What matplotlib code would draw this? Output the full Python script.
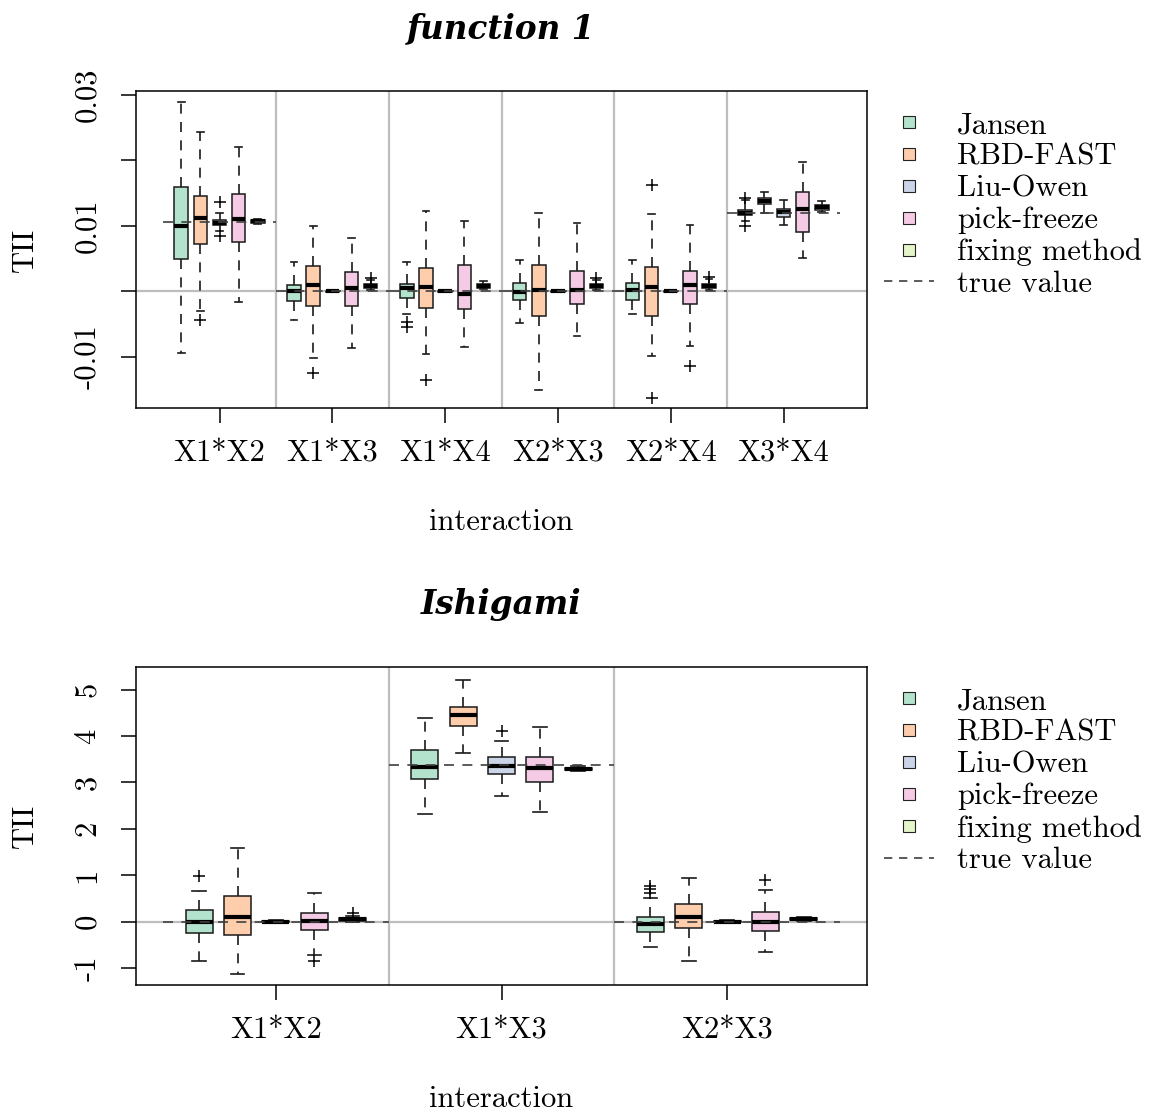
import numpy as np
import matplotlib
matplotlib.use("Agg")
import matplotlib.pyplot as plt
from matplotlib.lines import Line2D

plt.rcParams['font.family'] = 'cmr10'
plt.rcParams['axes.unicode_minus'] = False
plt.rcParams['axes.linewidth'] = 1.1
plt.rcParams['font.size'] = 22

methods = ["Jansen", "RBD-FAST", "Liu-Owen", "pick-freeze", "fixing method"]
colors = ["#B3E2CD", "#FDCDAC", "#CBD5E8", "#F4CAE4", "#E6F5C9"]

# ---- function 1 : rows = interactions, cols = methods
f1_groups = ["X1*X2", "X1*X3", "X1*X4", "X2*X3", "X2*X4", "X3*X4"]
f1_true = [0.0106, 0.0, 0.0, 0.0, 0.0, 0.0120]
f1_whishi = [[0.0289, 0.0243, 0.0119, 0.0220, 0.0111],
             [0.0045, 0.0100, 0.0001, 0.0081, 0.0017],
             [0.0045, 0.0122, 0.0001, 0.0107, 0.0016],
             [0.0048, 0.0119, 0.0001, 0.0104, 0.0018],
             [0.0048, 0.0118, 0.0001, 0.0102, 0.0019],
             [0.0139, 0.0152, 0.0140, 0.0198, 0.0138]]
f1_q3 = [[0.0160, 0.0146, 0.0109, 0.0148, 0.0109],
         [0.0010, 0.0039, 0.00005, 0.0029, 0.0011],
         [0.0012, 0.0035, 0.00005, 0.0041, 0.0011],
         [0.0013, 0.0041, 0.00005, 0.0031, 0.0011],
         [0.0013, 0.0037, 0.00005, 0.0031, 0.0011],
         [0.0125, 0.0142, 0.0126, 0.0151, 0.0132]]
f1_med = [[0.0100, 0.0112, 0.0105, 0.0111, 0.0107],
          [0.0000, 0.0010, 0.0000, 0.0005, 0.0008],
          [0.0005, 0.0007, 0.0000, -0.0004, 0.0008],
          [-0.0001, 0.0002, 0.0000, 0.0002, 0.0008],
          [0.0002, 0.0006, 0.0000, 0.0010, 0.0008],
          [0.0120, 0.0138, 0.0121, 0.0126, 0.0129]]
f1_q1 = [[0.0049, 0.0072, 0.0101, 0.0075, 0.0105],
         [-0.0015, -0.0023, -0.00005, -0.0022, 0.0005],
         [-0.0010, -0.0025, -0.00005, -0.0027, 0.0005],
         [-0.0013, -0.0037, -0.00005, -0.0020, 0.0005],
         [-0.0013, -0.0037, -0.00005, -0.0019, 0.0005],
         [0.0116, 0.0133, 0.0114, 0.0090, 0.0125]]
f1_whislo = [[-0.0094, -0.0030, 0.0092, -0.0016, 0.0103],
             [-0.0044, -0.0102, -0.0001, -0.0086, 0.0002],
             [-0.0035, -0.0095, -0.0001, -0.0085, 0.0003],
             [-0.0049, -0.0150, -0.0001, -0.0068, 0.0002],
             [-0.0035, -0.0099, -0.0001, -0.0084, 0.0002],
             [0.0107, 0.0120, 0.0102, 0.0051, 0.0121]]
f1_fliers = [[[], [-0.0043], [0.0136, 0.0085], [], []],
             [[], [-0.0125], [], [], [0.0020]],
             [[-0.0047, -0.0055], [-0.0136], [], [], []],
             [[], [], [], [], [0.0021]],
             [[], [0.0162, -0.0162], [], [-0.0114], [0.0022]],
             [[0.0143, 0.0100], [], [], [], []]]

# ---- Ishigami
ish_groups = ["X1*X2", "X1*X3", "X2*X3"]
ish_true = [0.0, 3.37, 0.0]
ish_whishi = [[0.67, 1.58, 0.03, 0.61, 0.12],
              [4.38, 5.22, 3.89, 4.19, 3.36],
              [0.50, 0.95, 0.03, 0.68, 0.10]]
ish_q3 = [[0.24, 0.56, 0.01, 0.19, 0.07],
          [3.71, 4.63, 3.54, 3.54, 3.32],
          [0.09, 0.37, 0.01, 0.21, 0.08]]
ish_med = [[0.0, 0.09, 0.0, 0.01, 0.05],
           [3.33, 4.46, 3.35, 3.32, 3.30],
           [-0.06, 0.09, 0.0, 0.0, 0.06]]
ish_q1 = [[-0.24, -0.28, -0.01, -0.18, 0.02],
          [3.08, 4.21, 3.18, 3.01, 3.27],
          [-0.22, -0.13, -0.01, -0.21, 0.04]]
ish_whislo = [[-0.86, -1.12, -0.03, -0.72, 0.0],
              [2.31, 3.64, 2.70, 2.36, 3.25],
              [-0.55, -0.86, -0.03, -0.65, 0.02]]
ish_fliers = [[[0.99], [], [], [-0.86], [0.19]],
              [[], [], [4.10], [], []],
              [[0.62, 0.70, 0.76], [], [], [0.90], []]]

offsets = np.array([-0.34, -0.17, 0.0, 0.17, 0.34])
bw = 0.12
dash = (0, (6, 5))


def panel(ax, title, groups, true, whishi, q3, med, q1, whislo, fliers, yticks, ylabels, ylim):
    n = len(groups)
    for g in range(n):
        stats = []
        for m in range(5):
            stats.append(dict(med=med[g][m], q1=q1[g][m], q3=q3[g][m],
                              whislo=whislo[g][m], whishi=whishi[g][m],
                              fliers=fliers[g][m]))
        pos = g + 1 + offsets
        bp = ax.bxp(stats, positions=pos, widths=bw, patch_artist=True,
                    showfliers=True, manage_ticks=False,
                    boxprops=dict(edgecolor='#1a1a1a', linewidth=1.1),
                    whiskerprops=dict(color='#1a1a1a', linestyle=dash, linewidth=1.2),
                    capprops=dict(color='#1a1a1a', linewidth=1.2),
                    medianprops=dict(color='black', linewidth=3.0, solid_capstyle='butt'),
                    flierprops=dict(marker='+', markersize=9, markeredgecolor='black',
                                    markeredgewidth=1.1, linestyle='none'))
        for patch, c in zip(bp['boxes'], colors):
            patch.set_facecolor(c)
        ax.plot([g + 0.5, g + 1.5], [true[g], true[g]], color='#404040',
                linestyle=dash, linewidth=1.2, zorder=4)
    for g in range(1, n):
        ax.axvline(g + 0.5, color='#BEBEBE', linewidth=1.6, zorder=1)
    ax.axhline(0, color='#BEBEBE', linewidth=1.6, zorder=1)

    ax.set_xlim(0.5 - 0.04 * n, n + 0.5 + 0.04 * n)
    ax.set_ylim(*ylim)
    ax.set_xticks(np.arange(1, n + 1))
    ax.set_xticklabels(groups)
    ax.set_yticks(yticks)
    ax.set_yticklabels(ylabels, rotation=90, va='center')
    ax.tick_params(axis='both', direction='out', length=11, width=1.1, labelsize=22)
    ax.tick_params(axis='y', pad=14)
    ax.tick_params(axis='x', pad=12)
    ax.set_xlabel("interaction", fontsize=22, labelpad=30)
    ax.set_ylabel("TII", fontsize=22, labelpad=25)
    ax.set_title(title, fontsize=23.5, family='DejaVu Serif', style='italic',
                 weight='bold', pad=38)

    handles = [Line2D([0], [0], marker='s', markersize=9, markerfacecolor=c,
                      markeredgecolor='#222222', markeredgewidth=0.8, linestyle='none')
               for c in colors]
    handles.append(Line2D([0], [0], color='#404040', linestyle=(0, (5, 4)), linewidth=1.2))
    ax.legend(handles, methods + ["true value"], loc='upper left',
              bbox_to_anchor=(1.023, 0.935), frameon=False, fontsize=22,
              handlelength=1.65, handletextpad=0.75, labelspacing=0.14,
              borderpad=0, borderaxespad=0)


fig = plt.figure(figsize=(11.54, 11.12), dpi=100)
ax1 = fig.add_axes([0.1179, 0.6331, 0.6334, 0.2851])
ax2 = fig.add_axes([0.1179, 0.1142, 0.6334, 0.2860])

panel(ax1, "function 1", f1_groups, f1_true, f1_whishi, f1_q3, f1_med, f1_q1,
      f1_whislo, f1_fliers, [-0.01, 0.0, 0.01, 0.02, 0.03],
      ["-0.01", "", "0.01", "", "0.03"], (-0.0178, 0.0306))
panel(ax2, "Ishigami", ish_groups, ish_true, ish_whishi, ish_q3, ish_med, ish_q1,
      ish_whislo, ish_fliers, [-1, 0, 1, 2, 3, 4, 5],
      ["-1", "0", "1", "2", "3", "4", "5"], (-1.367, 5.49))

fig.savefig("out.png", dpi=100)
